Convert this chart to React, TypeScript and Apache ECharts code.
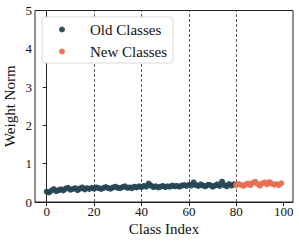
import React, { useEffect, useRef } from "react";
import * as echarts from "echarts";

const oldValues = [
  0.27, 0.25, 0.30, 0.34, 0.28, 0.31, 0.33, 0.30, 0.35, 0.37, 0.32, 0.34, 0.36, 0.31, 0.35, 0.38, 0.33, 0.36, 0.34, 0.37,
  0.35, 0.38, 0.36, 0.34, 0.37, 0.39, 0.36, 0.35, 0.38, 0.40, 0.37, 0.36, 0.39, 0.41, 0.37, 0.38, 0.36, 0.40, 0.38, 0.41,
  0.39, 0.42, 0.40, 0.48, 0.43, 0.39, 0.41, 0.38, 0.40, 0.42, 0.39, 0.41, 0.40, 0.43, 0.41, 0.42, 0.40, 0.43, 0.44, 0.42,
  0.45, 0.43, 0.51, 0.44, 0.42, 0.46, 0.43, 0.41, 0.45, 0.44, 0.40, 0.43, 0.46, 0.42, 0.53, 0.44, 0.41, 0.47, 0.43, 0.46,
];
const newValues = [
  0.44, 0.47, 0.45, 0.42, 0.46, 0.48, 0.44, 0.50, 0.53, 0.47, 0.43, 0.49, 0.51, 0.46, 0.52, 0.48, 0.45, 0.47, 0.44, 0.49,
];
const xTicks = [0, 20, 40, 60, 80, 100];
const dashedLines = [20, 40, 60, 80];
const seriesNames = ["Old Classes", "New Classes"];

const FONT = "'Liberation Serif', 'Times New Roman', serif";

export default function App() {
  const ref = useRef<HTMLDivElement>(null);
  useEffect(() => {
    if (!ref.current) return;
    const chart = echarts.init(ref.current, undefined, { renderer: "svg" });
    const oldData = oldValues.map((v, i) => [i, v]);
    const newData = newValues.map((v, i) => [oldValues.length + i, v]);
    chart.setOption({
      animation: false,
      grid: {
        left: 35,
        right: 6,
        top: 10.5,
        bottom: 41,
        containLabel: false,
        outerBoundsMode: "none",
        show: true,
        borderColor: "#222",
        borderWidth: 1,
        backgroundColor: "transparent",
      },
      legend: {
        orient: "vertical",
        left: 42,
        top: 17,
        z: 10,
        zlevel: 0,
        data: seriesNames,
        icon: "circle",
        itemWidth: 6,
        itemHeight: 15,
        itemGap: 7,
        padding: [5, 6, 4, 17],
        borderColor: "#d9d9d9",
        borderWidth: 1,
        borderRadius: 3,
        backgroundColor: "#ffffff",
        textStyle: {
          fontFamily: FONT,
          fontSize: 15,
          color: "#111",
          padding: [0, 0, 0, 20],
        },
      },
      xAxis: {
        type: "value",
        min: -4.95,
        max: 103.95,
        name: "Class Index",
        nameLocation: "middle",
        nameGap: 19,
        nameMoveOverlap: false,
        nameTextStyle: { fontFamily: FONT, fontSize: 15, color: "#111" },
        axisLine: { show: true, lineStyle: { color: "#222", width: 1 } },
        axisTick: { show: true, inside: false, length: 4, customValues: xTicks, lineStyle: { color: "#222" } },
        axisLabel: { customValues: xTicks, fontFamily: FONT, fontSize: 13, color: "#111", margin: 3 },
        splitLine: { show: false },
      },
      yAxis: {
        type: "value",
        min: 0,
        max: 5,
        interval: 1,
        name: "Weight Norm",
        nameLocation: "middle",
        nameGap: 18,
        nameMoveOverlap: false,
        nameTextStyle: { fontFamily: FONT, fontSize: 15, color: "#111" },
        axisLine: { show: true, lineStyle: { color: "#222", width: 1 } },
        axisTick: { show: true, inside: false, length: 4, lineStyle: { color: "#222" } },
        axisLabel: { fontFamily: FONT, fontSize: 13, color: "#111", margin: 3 },
        splitLine: { show: false },
      },
      series: [
        {
          name: seriesNames[0],
          type: "scatter",
          data: oldData,
          symbolSize: 6,
          itemStyle: { color: "#264653", opacity: 0.95 },
          markLine: {
            silent: true,
            z: 1,
            symbol: ["none", "none"],
            label: { show: false },
            lineStyle: { type: [3, 2], color: "#333", width: 0.8 },
            data: dashedLines.map((v) => ({ xAxis: v })),
          },
          z: 2,
        },
        {
          name: seriesNames[1],
          type: "scatter",
          data: newData,
          symbolSize: 6,
          itemStyle: { color: "#e76f51", opacity: 0.95 },
          z: 2,
        },
      ],
    });
    return () => chart.dispose();
  }, []);
  return <div ref={ref} style={{ width: 299, height: 243, position: "absolute", left: 0, top: 0 }} />;
}
